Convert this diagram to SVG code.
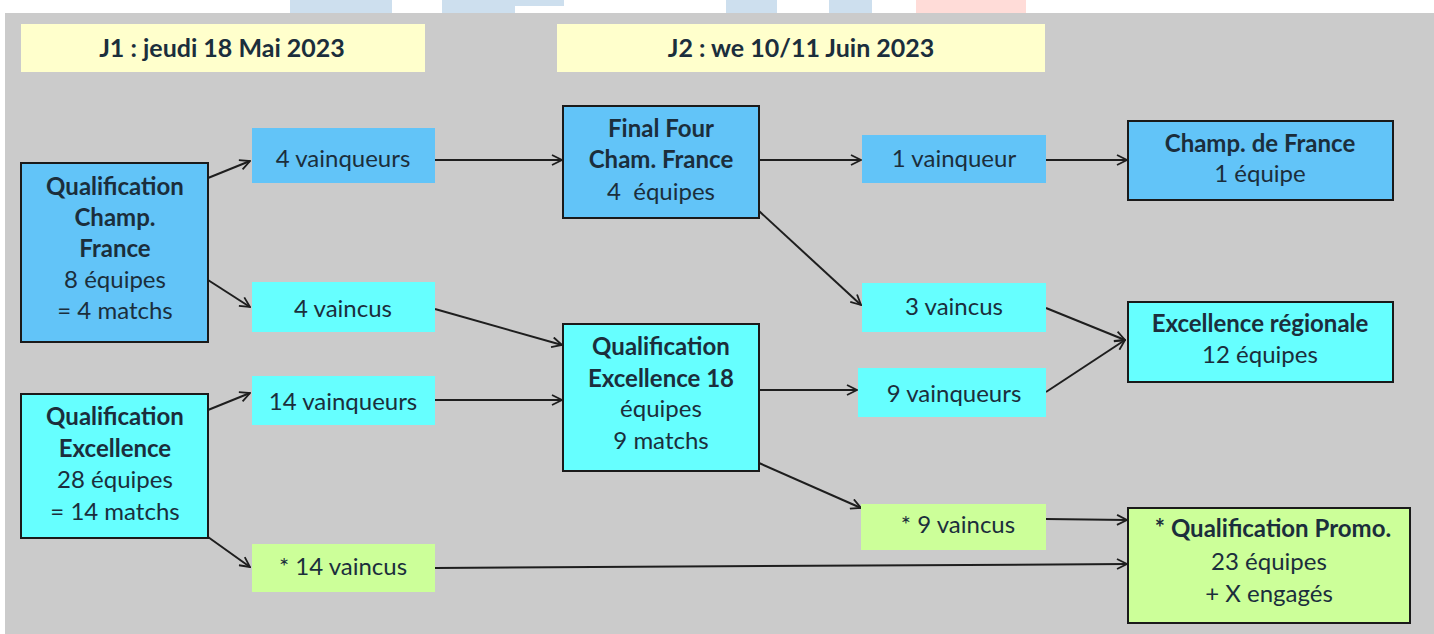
<svg xmlns="http://www.w3.org/2000/svg" width="1434" height="634" viewBox="0 0 1434 634">
<defs>
<marker id="arr" viewBox="0 0 12 12" refX="11" refY="6" markerWidth="12" markerHeight="12" markerUnits="userSpaceOnUse" orient="auto">
<path d="M1,1 L11,6 L1,11" fill="none" stroke="#1e1e1e" stroke-width="1.8"/>
</marker>
<style>
.bg{fill:#cbcbcb}
.hdr{fill:#ffffcc}
.blue{fill:#62c4f8}
.cyan{fill:#66ffff}
.green{fill:#ccff99}
.bx{stroke:#1a1a1a;stroke-width:2}
text{font-family:Lato,"Liberation Sans",sans-serif;font-size:24px;fill:#1b2e3c;text-anchor:middle}
.b{font-weight:bold}
.h{font-size:25px}
.c line{stroke:#1e1e1e;stroke-width:2;fill:none;marker-end:url(#arr)}
</style>
</defs>
<rect x="0" y="0" width="1434" height="634" fill="#ffffff"/>
<g id="banner">
<rect x="290" y="0" width="102" height="13" fill="#cddfee"/>
<rect x="442" y="0" width="73" height="13" fill="#cddfee"/>
<rect x="514" y="0" width="50" height="6" fill="#cddfee"/>
<rect x="726" y="0" width="51" height="13" fill="#cddfee"/>
<rect x="829" y="0" width="43" height="13" fill="#cddfee"/>
<rect x="916" y="0" width="110" height="13" fill="#ffdcd8"/>
</g>
<rect class="bg" x="5" y="13" width="1429" height="621"/>
<g id="hdr1"><rect class="hdr" x="21" y="24" width="404" height="48"/><text class="b h" x="222" y="57">J1 : jeudi 18 Mai 2023</text></g>
<g id="hdr2"><rect class="hdr" x="557" y="24" width="488" height="48"/><text class="b h" x="801" y="57">J2 : we 10/11 Juin 2023</text></g>

<g class="c" id="connectors">
<line x1="208" y1="178" x2="250" y2="161"/>
<line x1="208" y1="280" x2="250" y2="307"/>
<line x1="208" y1="410" x2="250" y2="393"/>
<line x1="208" y1="537" x2="250" y2="567"/>
<line x1="435" y1="160" x2="562" y2="160"/>
<line x1="435" y1="309" x2="562" y2="345"/>
<line x1="435" y1="400" x2="562" y2="400"/>
<line x1="435" y1="568" x2="1127" y2="564"/>
<line x1="759" y1="160" x2="861" y2="160"/>
<line x1="759" y1="211" x2="861" y2="305"/>
<line x1="759" y1="390" x2="857" y2="390"/>
<line x1="759" y1="463" x2="861" y2="508"/>
<line x1="1046" y1="160" x2="1127" y2="160"/>
<line x1="1046" y1="308" x2="1125" y2="340"/>
<line x1="1046" y1="392" x2="1125" y2="340"/>
<line x1="1046" y1="519" x2="1127" y2="520"/>
</g>

<g id="qcf"><rect class="blue bx" x="21" y="163" width="187" height="179"/>
<text class="b" x="115" y="195">Qualification</text><text class="b" x="115" y="226">Champ.</text><text class="b" x="115" y="257">France</text><text x="115" y="288">8 équipes</text><text x="115" y="319">= 4 matchs</text></g>
<g id="qe"><rect class="cyan bx" x="21" y="394" width="187" height="144"/>
<text class="b" x="115" y="425">Qualification</text><text class="b" x="115" y="457">Excellence</text><text x="115" y="488">28 équipes</text><text x="115" y="520">= 14 matchs</text></g>
<g id="v4"><rect class="blue" x="252" y="128" width="183" height="55"/><text x="343" y="167">4 vainqueurs</text></g>
<g id="l4"><rect class="cyan" x="252" y="282" width="183" height="50"/><text x="343" y="317">4 vaincus</text></g>
<g id="v14"><rect class="cyan" x="252" y="376" width="183" height="49"/><text x="343" y="410">14 vainqueurs</text></g>
<g id="l14"><rect class="green" x="252" y="544" width="183" height="48"/><text x="343" y="575">* 14 vaincus</text></g>
<g id="ff"><rect class="blue bx" x="563" y="106" width="196" height="112"/>
<text class="b" x="661" y="137">Final Four</text><text class="b" x="661" y="168">Cham. France</text><text x="661" y="200" xml:space="preserve">4  équipes</text></g>
<g id="qe18"><rect class="cyan bx" x="563" y="324" width="196" height="147"/>
<text class="b" x="661" y="355">Qualification</text><text class="b" x="661" y="387">Excellence 18</text><text x="661" y="417">équipes</text><text x="661" y="449">9 matchs</text></g>
<g id="v1"><rect class="blue" x="862" y="135" width="184" height="48"/><text x="954" y="167">1 vainqueur</text></g>
<g id="l3"><rect class="cyan" x="862" y="283" width="184" height="49"/><text x="954" y="315">3 vaincus</text></g>
<g id="v9"><rect class="cyan" x="858" y="368" width="188" height="49"/><text x="954" y="402">9 vainqueurs</text></g>
<g id="l9"><rect class="green" x="861" y="504" width="185" height="46"/><text x="958" y="533">* 9 vaincus</text></g>
<g id="cdf"><rect class="blue bx" x="1128" y="121" width="265" height="79"/>
<text class="b" x="1260" y="152">Champ. de France</text><text x="1260" y="182">1 équipe</text></g>
<g id="er"><rect class="cyan bx" x="1128" y="302" width="265" height="80"/>
<text class="b" x="1260" y="332">Excellence régionale</text><text x="1260" y="363">12 équipes</text></g>
<g id="qp"><rect class="green bx" x="1128" y="508" width="282" height="115"/>
<text class="b" x="1273" y="537">* Qualification Promo.</text><text x="1269" y="570">23 équipes</text><text x="1269" y="602">+ X engagés</text></g>
</svg>
